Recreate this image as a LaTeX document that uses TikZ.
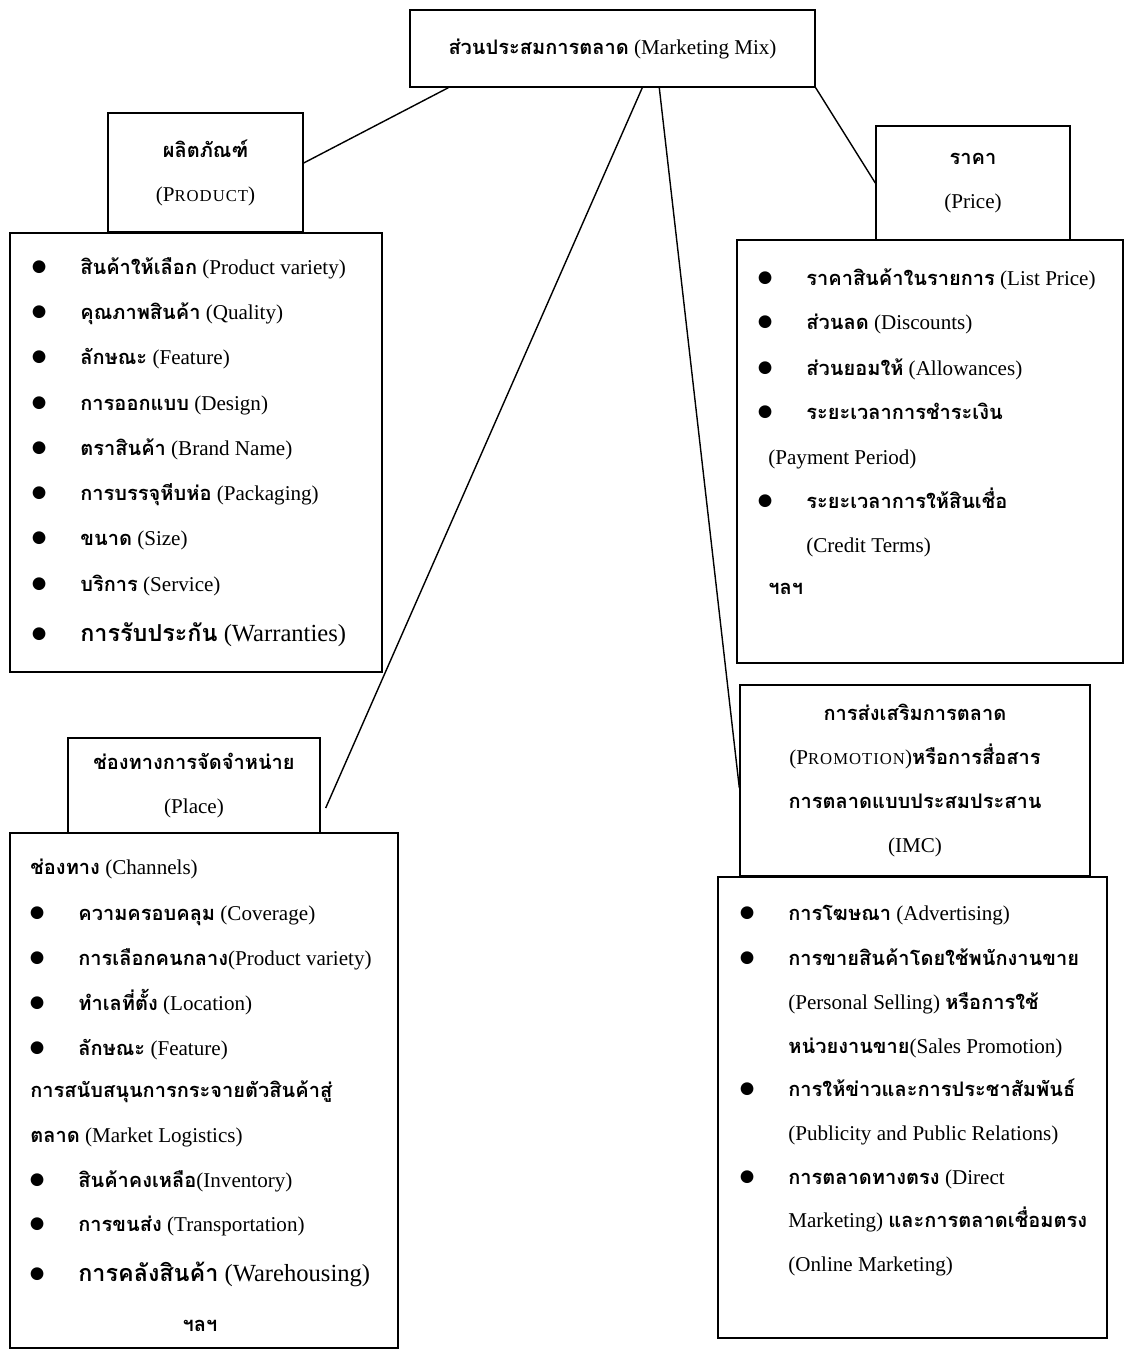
\documentclass[tikz,border=0pt]{standalone}
\usepackage{fontspec}
\setmainfont{Liberation Serif}
\newfontfamily\thaifont[Script=Thai,Scale=0.95]{Loma}
\newfontfamily\symfont{DejaVu Sans}

% Thai letters go to the Thai font by themselves
\XeTeXinterchartokenstate=1
\newXeTeXintercharclass\thaiclass
\newcount\thaicode
\thaicode="0E00
\loop\ifnum\thaicode<"0E80
  \XeTeXcharclass\thaicode=\thaiclass
  \advance\thaicode by 1
\repeat
\XeTeXinterchartoks 0 \thaiclass = {\thaifont\bfseries}
\XeTeXinterchartoks 4095 \thaiclass = {\thaifont\bfseries}
\XeTeXinterchartoks \thaiclass 0 = {\rmfamily\mdseries}
\XeTeXinterchartoks \thaiclass 4095 = {\rmfamily\mdseries}

\newcommand{\bul}{\llap{\raisebox{1.6pt}{\symfont\fontsize{9.5}{9.5}\selectfont ●}\hspace{0.68cm}}}
\newcommand{\smc}[1]{{\fontsize{9.5}{10}\selectfont\addfontfeature{LetterSpace=6}#1}}

\tikzset{
  box/.style={draw, line width=0.8pt, inner sep=0pt},
  title/.style={box, align=center, font=\fontsize{12}{25}\selectfont},
  item/.style={anchor=base west, inner sep=0pt, font=\fontsize{12}{14}\selectfont},
  link/.style={line width=0.8pt},
}

\begin{document}
\begin{tikzpicture}[x=0.02cm, y=-0.02cm]
    \useasboundingbox (0,0) rectangle (1129,1350);

    % Marketing mix
    \node[title, minimum width=8.1cm, minimum height=1.54cm] (mix) at (612.5,48.5) {ส่วนประสมการตลาด (Marketing Mix)};

    % Product
    \node[box, minimum width=7.44cm, minimum height=8.78cm] (prodl) at (196,452.5) {};
    \node[title, minimum width=3.9cm, minimum height=2.38cm] (prodt) at (205.5,172.5) {ผลิตภัณฑ์\\(P\smc{RODUCT})};
    \foreach \y/\t [count=\i] in {268/สินค้าให้เลือก (Product variety), 313/คุณภาพสินค้า (Quality),
        358/ลักษณะ (Feature), 404/การออกแบบ (Design), 449/ตราสินค้า (Brand Name),
        494/การบรรจุหีบห่อ (Packaging), 539/ขนาด (Size), 585/บริการ (Service)}
      \node[item] (prod\i) at (80,\y+6) {\bul\t};
    \node[item] (prod9) at (80,641) {\bul\fontsize{14}{16}\selectfont การรับประกัน (Warranties)};

    % Price
    \node[box, minimum width=7.72cm, minimum height=8.46cm] (pricel) at (930,451.5) {};
    \node[title, minimum width=3.88cm, minimum height=2.28cm] (pricet) at (973,183) {ราคา\\(Price)};
    \foreach \x/\y/\t [count=\i] in {806/279/\bul ราคาสินค้าในรายการ (List Price), 806/323/\bul ส่วนลด (Discounts),
        806/369/\bul ส่วนยอมให้ (Allowances), 806/413/\bul ระยะเวลาการชำระเงิน, 768/458/(Payment Period),
        806/502/\bul ระยะเวลาการให้สินเชื่อ, 806/546/(Credit Terms), 768/588/ฯลฯ}
      \node[item] (price\i) at (\x,\y+6) {\t};

    % Place
    \node[box, minimum width=7.76cm, minimum height=10.3cm] (placel) at (204,1090.5) {};
    \node[title, minimum width=5.04cm, minimum height=1.9cm] (placet) at (194,785.5) {ช่องทางการจัดจำหน่าย\\(Place)};
    \foreach \x/\y/\t [count=\i] in {30/868/ช่องทาง (Channels), 78/914/\bul ความครอบคลุม (Coverage),
        78/959/\bul การเลือกคนกลาง(Product variety), 78/1004/\bul ทำเลที่ตั้ง (Location),
        78/1049/\bul ลักษณะ (Feature), 30/1091/การสนับสนุนการกระจายตัวสินค้าสู่,
        30/1136/ตลาด (Market Logistics), 78/1181/\bul สินค้าคงเหลือ(Inventory),
        78/1225/\bul การขนส่ง (Transportation)}
      \node[item] (place\i) at (\x,\y+6) {\t};
    \node[item] (place10) at (78,1281) {\bul\fontsize{14}{16}\selectfont การคลังสินค้า (Warehousing)};
    \node[item, anchor=base] (place11) at (200,1331) {ฯลฯ};

    % Promotion
    \node[box, minimum width=7.78cm, minimum height=9.22cm] (promol) at (912.5,1107.5) {};
    \node[title, minimum width=7cm, minimum height=3.82cm] (promot) at (915,780.5) {การส่งเสริมการตลาด\\(P\smc{ROMOTION})หรือการสื่อสาร\\การตลาดแบบประสมประสาน\\(IMC)};
    \foreach \y/\t [count=\i] in {914/\bul การโฆษณา (Advertising), 959/\bul การขายสินค้าโดยใช้พนักงานขาย,
        1003/(Personal Selling) หรือการใช้, 1047/หน่วยงานขาย(Sales Promotion),
        1090/\bul การให้ข่าวและการประชาสัมพันธ์, 1134/(Publicity and Public Relations),
        1178/\bul การตลาดทางตรง (Direct, 1221/Marketing) และการตลาดเชื่อมตรง, 1265/(Online Marketing)}
      \node[item] (promo\i) at (788,\y+6) {\t};

    % Links
    \draw[link] ([xshift=0.78cm]mix.south west) -- ([yshift=0.19cm]prodt.east);
    \draw[link] (mix.south east) -- (pricet.west);
    \draw[link] ([xshift=4.66cm]mix.south west) -- ([shift={(0.1cm,-0.45cm)}]placet.east);
    \draw[link] ([xshift=5cm]mix.south west) -- ([yshift=-0.15cm]promot.west);
\end{tikzpicture}
\end{document}
